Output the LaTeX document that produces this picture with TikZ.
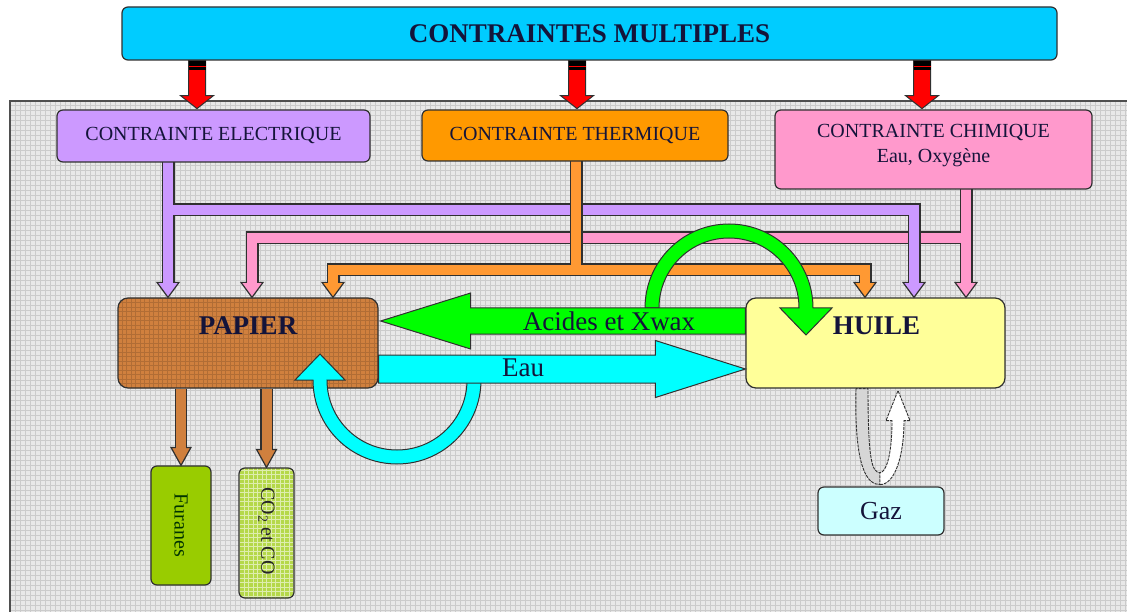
\documentclass[tikz,border=0pt]{standalone}
\usepackage{fontspec}
\setmainfont{Liberation Serif}
\usetikzlibrary{calc}

\definecolor{titleC}{HTML}{00CCFF}
\definecolor{elecC}{HTML}{CC99FF}
\definecolor{thermC}{HTML}{FF9900}
\definecolor{thermBus}{HTML}{FF9933}
\definecolor{chimC}{HTML}{FF99CC}
\definecolor{paperC}{HTML}{D0803E}
\definecolor{oilC}{HTML}{FFFF99}
\definecolor{acidC}{HTML}{00FF00}
\definecolor{waterC}{HTML}{00FFFF}
\definecolor{furC}{HTML}{99CC00}
\definecolor{coC}{HTML}{B5D84A}
\definecolor{gazC}{HTML}{CCFFFF}
\definecolor{edgeC}{HTML}{303030}
\definecolor{inkC}{HTML}{14143A}
\definecolor{gridbg}{HTML}{E8E8E8}
\definecolor{gridln}{HTML}{CBCBCB}
\definecolor{loopgrey}{HTML}{D6D6D6}

% downward arrow head: colour, tip, half width, height
\newcommand\downhead[4]{%
  \filldraw[fill=#1, draw=edgeC, line width=1.2pt, line join=miter]
    (#2) -- ++(-#3,#4) -- ++(2*#3,0) -- cycle;}
% red block arrow hanging from the title bar
\newcommand\redarrow[1]{%
  \filldraw[fill=red, draw=edgeC, line width=1pt, line join=miter]
    (#1) ++(-8.5,0) -- ++(0,-35) -- ++(-8,0) -- ++(16.5,-13)
    -- ++(16.5,13) -- ++(-8,0) -- ++(0,35) -- cycle;
  \fill[black] (#1) ++(-8.5,0) rectangle ++(17,-9);
  \draw[red, line width=1pt] (#1) ++(-8.5,-5.5) -- ++(17,0);}

\tikzset{
  box/.style={draw=edgeC, line width=1.2pt, rounded corners=6pt, inner sep=0pt},
  bigbox/.style={box, rounded corners=10pt},
  ctext/.style={font=\fontsize{20}{25}\selectfont, text=inkC, align=center},
  bigtext/.style={font=\fontsize{27}{30}\selectfont, text=inkC},
  boldtext/.style={font=\bfseries\fontsize{27}{30}\selectfont, text=inkC},
  busout/.style={line width=13pt, draw=edgeC, line join=miter, line cap=butt},
  busfill/.style={line width=10pt, line join=miter, line cap=butt},
  bigarr/.style={draw=edgeC, line width=1pt, line join=miter},
  hatch/.style={path picture={\draw[step=4.5pt, line width=0.3pt, #1]
      (path picture bounding box.south west) grid (path picture bounding box.north east);}},
}

\begin{document}
\begin{tikzpicture}[x=1pt, y=1pt]
\useasboundingbox (0,0) rectangle (1127,-612);
\fill[white] (0,0) rectangle (1127,-612);

% squared working area
\fill[gridbg] (10,-101) rectangle (1130,-615);
\draw[gridln, line width=0.45pt, step=5pt] (10,-101) grid (1130,-615);
\draw[edgeC!85, line width=1.2pt] (10,-615) -- (10,-101) -- (1130,-101);

% main boxes
\node[bigbox, fill=paperC, hatch=paperC!85!black, minimum width=260pt, minimum height=90pt] (pap) at (248,-343) {};
\node[bigbox, fill=oilC, minimum width=259pt, minimum height=90pt] (hui) at (875.5,-343) {};

% constraint buses: chemical
\coordinate (pR) at (966,-238);
\coordinate (pL) at (252,-238);
\draw[busout] (pR |- 0,-189) -- ($(hui.north -| pR)+(0,15)$);
\draw[busout] (pR) -- (pL) -- ($(pap.north -| pL)+(0,15)$);
\downhead{chimC}{hui.north -| pR}{11}{15}
\downhead{chimC}{pap.north -| pL}{11}{15}
\draw[busfill, chimC] (pR |- 0,-189) -- ($(hui.north -| pR)+(0,13.5)$);
\draw[busfill, chimC] (pR) -- (pL) -- ($(pap.north -| pL)+(0,13.5)$);

% constraint buses: electrical
\coordinate (eX) at (168,-210);
\coordinate (eR) at (914,-210);
\draw[busout] (eX |- 0,-162) -- ($(pap.north -| eX)+(0,15)$);
\draw[busout] (eX) -- (eR) -- ($(hui.north -| eR)+(0,15)$);
\downhead{elecC}{pap.north -| eX}{11}{15}
\downhead{elecC}{hui.north -| eR}{11}{15}
\draw[busfill, elecC] (eX |- 0,-162) -- ($(pap.north -| eX)+(0,13.5)$);
\draw[busfill, elecC] (eX) -- (eR) -- ($(hui.north -| eR)+(0,13.5)$);

% constraint buses: thermal
\coordinate (tX) at (576,-270);
\coordinate (tL) at (333,-270);
\coordinate (tR) at (865,-270);
\draw[busout] (tX |- 0,-161) -- (tX);
\draw[busout] ($(pap.north -| tL)+(0,15)$) -- (tL) -- (tR) -- ($(hui.north -| tR)+(0,15)$);
\downhead{thermBus}{pap.north -| tL}{11}{15}
\downhead{thermBus}{hui.north -| tR}{11}{15}
\draw[busfill, thermBus] (tX |- 0,-161) -- (tX);
\draw[busfill, thermBus] ($(pap.north -| tL)+(0,13.5)$) -- (tL) -- (tR) -- ($(hui.north -| tR)+(0,13.5)$);

% title and constraint boxes
\node[box, fill=titleC, minimum width=935pt, minimum height=53pt,
      font=\bfseries\fontsize{27}{30}\selectfont, text=inkC] (title) at (589.5,-33.5) {CONTRAINTES MULTIPLES};
\node[box, fill=elecC, minimum width=313pt, minimum height=52pt, ctext] (elec) at (213.5,-136) {CONTRAINTE ELECTRIQUE};
\node[box, fill=thermC, minimum width=306pt, minimum height=51pt, ctext] (therm) at (575,-135.5) {CONTRAINTE THERMIQUE};
\node[box, fill=chimC, minimum width=317pt, minimum height=79pt] (chim) at (933.5,-149.5) {};
\node[ctext] at ($(chim.center)+(0,4)$) {CONTRAINTE CHIMIQUE\\Eau, Oxygène};

% red arrows from the title bar
\coordinate (r1) at (197,0);
\coordinate (r2) at (577,0);
\coordinate (r3) at (922,0);
\redarrow{title.south -| r1}
\redarrow{title.south -| r2}
\redarrow{title.south -| r3}

% acid loop on the oil side
\coordinate (gC) at (729,-308);
\filldraw[bigarr, fill=acidC] ($(gC)+(-84,0)$) arc[start angle=180, end angle=0, radius=84]
  -- ++(19,0) -- ++(-26,-27) -- ++(-26,27) -- ++(19,0)
  arc[start angle=0, end angle=180, radius=70] -- cycle;

% water loop on the paper side
\coordinate (cC) at (397,-380);
\filldraw[bigarr, fill=waterC] ($(cC)+(84,0)$) arc[start angle=0, end angle=-180, radius=84]
  -- ++(-18,0) -- ++(25,26) -- ++(25,-26) -- ++(-18,0)
  arc[start angle=-180, end angle=0, radius=70] -- cycle;

% acids and wax: oil -> paper
\coordinate (gA) at (0,-321);
\coordinate (gTip) at ($(pap.east |- gA)+(2,0)$);
\coordinate (gEnd) at (hui.west |- gA);
\filldraw[bigarr, fill=acidC] (gTip) -- ++(90,28) -- ++(0,-15) -- ($(gEnd)+(0,13)$)
  -- ($(gEnd)+(0,-13)$) -- ($(gTip)+(90,-13)$) -- ++(0,-15) -- cycle;
\node[bigtext] at (609,-321) {Acides et Xwax};

% water: paper -> oil
\coordinate (wA) at (0,-369);
\coordinate (wTip) at (hui.west |- wA);
\coordinate (wEnd) at (pap.east |- wA);
\filldraw[bigarr, fill=waterC] (wTip) -- ++(-90,28.5) -- ++(0,-14.5) -- ($(wEnd)+(0,14)$)
  -- ($(wEnd)+(0,-14)$) -- ($(wTip)+(-90,-14)$) -- ++(0,-14.5) -- cycle;
\node[bigtext] at (523,-368) {Eau};

% box titles
\node[boldtext] at ($(pap.north)+(0,-28)$) {PAPIER};
\node[boldtext] at ($(hui.north)+(1,-28)$) {HUILE};

% degradation products of the paper
\node[box, fill=furC, minimum width=60pt, minimum height=119pt] (fur) at (181,-525.5) {};
\node[font=\fontsize{20}{24}\selectfont, text=black!80!green, rotate=-90] at (fur.center) {Furanes};
\node[box, fill=coC, hatch=white!55!coC, minimum width=55pt, minimum height=130pt] (co) at (266.5,-533) {};
\node[font=\fontsize{20}{24}\selectfont, text=black!85, rotate=-90] at ($(co.center)+(0,2)$) {CO\textsubscript{2} et CO};

\draw[busout, line width=12.5pt] (pap.south -| fur.north) -- ($(fur.north)+(0,18)$);
\draw[busout, line width=12.5pt] (pap.south -| co.north) -- ($(co.north)+(0,18)$);
\downhead{paperC}{fur.north}{10}{18}
\downhead{paperC}{co.north}{10}{18}
\draw[busfill, paperC] (pap.south -| fur.north) -- ($(fur.north)+(0,16.5)$);
\draw[busfill, paperC] (pap.south -| co.north) -- ($(co.north)+(0,16.5)$);

% gas exchange under the oil
\node[box, fill=gazC, minimum width=126pt, minimum height=48pt, bigtext, font=\fontsize{26}{30}\selectfont] (gaz) at (881,-511) {Gaz};
\filldraw[fill=loopgrey, draw=edgeC, line width=0.9pt, dash pattern=on 3pt off 1pt]
  ($(hui.south)+(-19.5,0)$) .. controls ++(-2,-82) and ++(-12,0) .. ($(hui.south)+(4.5,-96)$)
  -- ++(0,12) .. controls ++(-8,0) and ++(0,-72) .. ($(hui.south)+(-7.5,0)$) -- cycle;
\filldraw[fill=white, draw=edgeC, line width=0.9pt, dash pattern=on 3pt off 1pt]
  ($(hui.south)+(4.5,-96)$) .. controls ++(15,0) and ++(0,-35) .. ($(hui.south)+(28.5,-32)$)
  -- ++(6,0) -- ($(hui.south)+(22.5,-2)$) -- ($(hui.south)+(10.5,-32)$) -- ++(6,0)
  .. controls ++(0,-35) and ++(6,0) .. ($(hui.south)+(4.5,-84)$) -- cycle;
\end{tikzpicture}
\end{document}
